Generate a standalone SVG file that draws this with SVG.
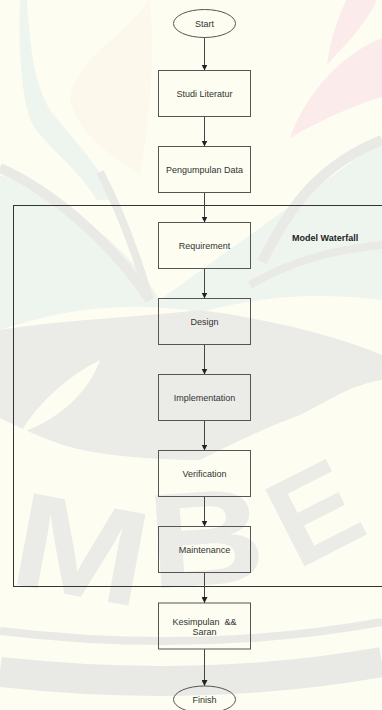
<svg xmlns="http://www.w3.org/2000/svg" width="382" height="710" viewBox="0 0 382 710">
  <defs>
    <marker id="arr" markerUnits="userSpaceOnUse" markerWidth="6" markerHeight="6" refX="6" refY="3" orient="auto">
      <path d="M0,0 L6,3 L0,6 Z" fill="#222"/>
    </marker>
    <style>
      .box{fill:none;stroke:#555;stroke-width:1}
      .lbl{font-family:"Liberation Sans",Arial,sans-serif;font-size:9px;fill:#333;text-anchor:middle}
      .title{font-family:"Liberation Sans",Arial,sans-serif;font-size:9px;font-weight:bold;fill:#222}
      .edge{stroke:#444;stroke-width:1;fill:none;marker-end:url(#arr)}
      .band{fill:none;stroke:#e9eae6}
      .wm{font-family:"Liberation Sans",Arial,sans-serif;font-weight:bold;font-size:135px;fill:#ebebe7}
    </style>
  </defs>

  <!-- faint background emblem -->
  <g id="emblem">
    <rect width="382" height="710" fill="#fdfdf1"/>
    <path d="M150,0 C120,40 75,60 70,100 C80,140 120,160 140,175 C150,120 155,60 150,0 Z" fill="#fcf8ec"/>
    <path d="M20,0 L27,0 C30,50 35,85 50,110 C65,130 95,160 117,200 L97,200 C75,165 45,145 33,125 C22,105 18,50 20,0 Z" fill="#eef5ef"/>
    <path d="M346,0 L377,0 C365,25 345,45 327,65 C330,40 338,18 346,0 Z" fill="#fcebeb"/>
    <path d="M382,38 C340,55 305,95 290,138 C320,120 355,105 382,97 Z" fill="#fcebeb"/>
    <path d="M0,175 C70,200 130,250 160,300 C200,270 300,200 382,140 L382,300 C300,290 250,300 200,312 C120,300 60,310 0,330 Z" fill="#eef5ef"/>
    <path class="band" stroke-width="10" d="M0,168 C50,190 110,240 150,300"/>
    <path class="band" stroke-width="8" d="M100,172 C120,210 135,250 150,300"/>
    <path class="band" stroke-width="10" d="M382,140 C320,165 290,205 262,262"/>
    <path class="band" stroke-width="8" d="M382,245 C330,250 290,262 250,285"/>
    <path d="M0,330 C60,320 130,318 200,310 L200,460 C150,460 100,455 70,447 C40,438 15,425 0,418 Z" fill="#ebebe7"/>
    <path d="M20,433 C40,400 70,375 100,360 C90,390 60,420 20,433 Z" fill="#fdfdf1"/>
    <path d="M200,310 C260,318 330,333 382,355 L382,380 C350,385 330,400 300,415 C280,422 250,435 200,460 Z" fill="#ebebe7"/>
    <text class="wm" transform="translate(18,585) rotate(10.6) scale(1.2,1)" x="-10">M</text>
    <text class="wm" transform="translate(163,588) rotate(-4) scale(1.2,1)" x="-10">B</text>
    <text class="wm" style="font-size:125px" transform="translate(305,566) rotate(-27)" x="-9">E</text>
    <path class="band" stroke-width="8" d="M0,631 Q200,655 382,622"/>
    <path class="band" stroke-width="30" d="M0,672 Q200,694 382,662"/>
  </g>

  <!-- container for the waterfall phases -->
  <g id="waterfall">
    <rect x="13.5" y="205.5" width="380" height="381" fill="none" stroke="#333" stroke-width="1"/>
    <text class="title" x="292" y="241">Model Waterfall</text>
  </g>

  <g id="connectors">
    <line class="edge" x1="204.5" y1="37.5" x2="204.5" y2="70.5"/>
    <line class="edge" x1="204.5" y1="116.5" x2="204.5" y2="146.5"/>
    <line class="edge" x1="204.5" y1="192.5" x2="204.5" y2="222.5"/>
    <line class="edge" x1="204.5" y1="268.5" x2="204.5" y2="298.5"/>
    <line class="edge" x1="204.5" y1="344.5" x2="204.5" y2="374.5"/>
    <line class="edge" x1="204.5" y1="420.5" x2="204.5" y2="450.5"/>
    <line class="edge" x1="204.5" y1="496.5" x2="204.5" y2="526.5"/>
    <line class="edge" x1="204.5" y1="572.5" x2="204.5" y2="603"/>
    <line class="edge" x1="204.5" y1="649" x2="204.5" y2="686"/>
  </g>

  <g id="start">
    <ellipse class="box" cx="204.5" cy="23.5" rx="31" ry="14"/>
    <text class="lbl" x="204.5" y="26.7">Start</text>
  </g>
  <g id="studi-literatur">
    <rect class="box" x="158.5" y="70.5" width="92" height="46"/>
    <text class="lbl" x="204.5" y="96.7">Studi Literatur</text>
  </g>
  <g id="pengumpulan-data">
    <rect class="box" x="158.5" y="146.5" width="92" height="46"/>
    <text class="lbl" x="204.5" y="172.7">Pengumpulan Data</text>
  </g>
  <g id="requirement">
    <rect class="box" x="158.5" y="222.5" width="92" height="46"/>
    <text class="lbl" x="204.5" y="248.7">Requirement</text>
  </g>
  <g id="design">
    <rect class="box" x="158.5" y="298.5" width="92" height="46"/>
    <text class="lbl" x="204.5" y="324.7">Design</text>
  </g>
  <g id="implementation">
    <rect class="box" x="158.5" y="374.5" width="92" height="46"/>
    <text class="lbl" x="204.5" y="400.7">Implementation</text>
  </g>
  <g id="verification">
    <rect class="box" x="158.5" y="450.5" width="92" height="46"/>
    <text class="lbl" x="204.5" y="476.7">Verification</text>
  </g>
  <g id="maintenance">
    <rect class="box" x="158.5" y="526.5" width="92" height="46"/>
    <text class="lbl" x="204.5" y="552.7">Maintenance</text>
  </g>
  <g id="kesimpulan-saran">
    <rect class="box" x="158.5" y="603" width="92" height="46"/>
    <text class="lbl" x="204.5" y="625" style="white-space:pre">Kesimpulan  &amp;&amp;</text>
    <text class="lbl" x="204.5" y="635">Saran</text>
  </g>
  <g id="finish">
    <ellipse class="box" cx="204.5" cy="699.5" rx="31" ry="13.5"/>
    <text class="lbl" x="204.5" y="702.7">Finish</text>
  </g>
</svg>
